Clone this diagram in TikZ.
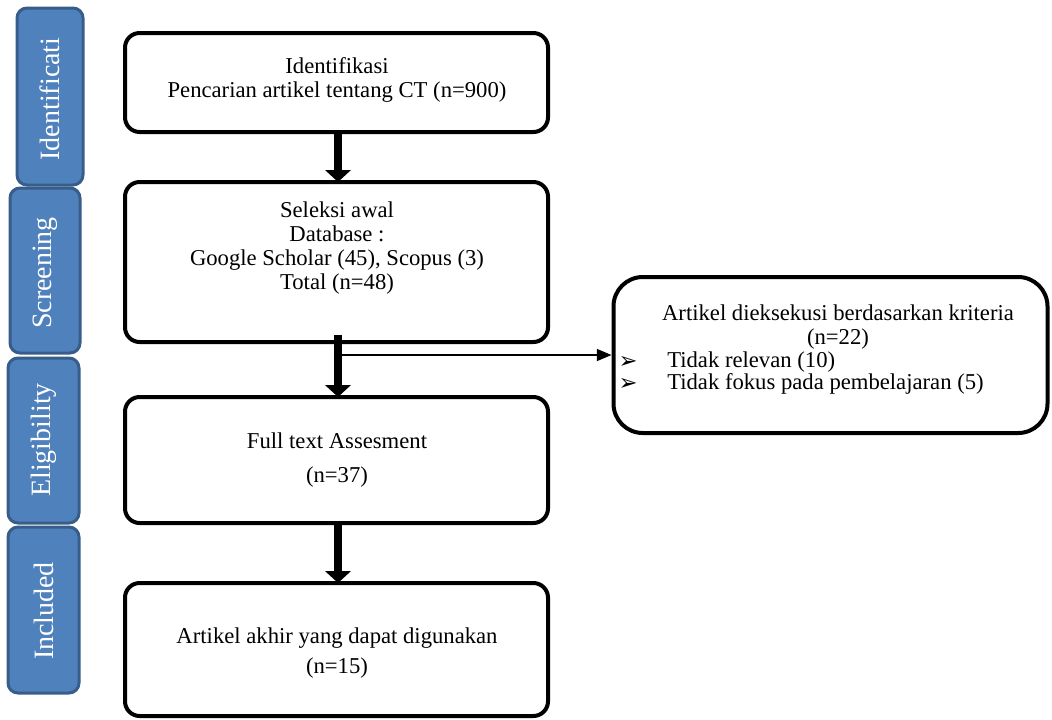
\documentclass[tikz,border=0pt]{standalone}
\usepackage{fontspec}
\setmainfont{Liberation Serif}
\newfontfamily\symfont{DejaVu Sans}
\usetikzlibrary{arrows.meta}
\definecolor{phasefill}{HTML}{4F81BD}
\definecolor{phaseline}{HTML}{385D8A}

\begin{document}
\begin{tikzpicture}[x=0.75pt,y=-0.75pt,
  box/.style={draw=black,line width=3pt,rounded corners=11pt,minimum width=317.25pt,inner sep=0pt},
  phase/.style={draw=phaseline,fill=phasefill,line width=2.25pt,rounded corners=7.5pt,inner sep=0pt},
  phasetxt/.style={text=white,rotate=90,font=\fontsize{21}{24}\selectfont,inner sep=0pt},
  txt/.style={align=center,font=\fontsize{17}{18}\selectfont,inner sep=0pt},
  bullet/.style={inner sep=0pt,font=\symfont\fontsize{17}{18}\selectfont,text height=9pt,text depth=0pt},
  bigarrow/.style={line width=6pt,-{Triangle[width=19pt,length=9pt]}},
  thinarrow/.style={line width=1.1pt,-{Triangle[width=9pt,length=11pt]}}]
\useasboundingbox (0,0) rectangle (1052,719);
\node (ph1) [phase,minimum width=49.5pt,minimum height=132.75pt] at (50,96.5) {};
\node (ph2) [phase,minimum width=52.5pt,minimum height=123.75pt] at (45,270.5) {};
\node (ph3) [phase,minimum width=53.25pt,minimum height=123.75pt] at (43.5,440.5) {};
\node (ph4) [phase,minimum width=53.25pt,minimum height=124.5pt] at (43.5,610) {};
\node (ph1t) [phasetxt] at (50,99) {Identificati};
\node (ph2t) [phasetxt] at (45,273) {Screening};
\node (ph3t) [phasetxt] at (43.5,440) {Eligibility};
\node (ph4t) [phasetxt] at (43.5,611) {Included};
\node (iden) [box,minimum height=74.25pt] at (336.5,82.5) {};
\node (screen) [box,minimum height=120pt] at (336.5,262) {};
\node (elig) [box,minimum height=94.5pt] at (336.5,460) {};
\node (incl) [box,minimum height=99.75pt] at (336.5,649.5) {};
\node (excl) [box,rounded corners=22pt,minimum width=325.5pt,minimum height=117pt] at (830.5,355) {};
\node (identxt) [txt] at (337,80) {Identifikasi\\Pencarian artikel tentang CT (n=900)};
\node (screentxt) [txt] at (337,248) {Seleksi awal\\Database :\\Google Scholar (45), Scopus (3)\\Total (n=48)};
\node (eligtxt) [txt] at (337,460) {Full text Assesment\\[7.5pt](n=37)};
\node (incltxt) [txt] at (337,653) {Artikel akhir yang dapat digunakan\\[5pt](n=15)};
\node (excltxt) [txt] at (838,327) {Artikel dieksekusi berdasarkan kriteria\\(n=22)};
\node (bul1) [bullet] at (628,362) {➢};
\node (bul2) [bullet] at (628,384) {➢};
\node (excl1) [txt,anchor=west] at (667,362) {Tidak relevan (10)};
\node (excl2) [txt,anchor=west] at (667,384) {Tidak fokus pada pembelajaran (5)};
\coordinate (split) at (338,355);
\draw [bigarrow] (338,132) -- (338,182);
\draw [bigarrow] (338,335) -- (338,397);
\draw [bigarrow] (338,523) -- (338,583);
\draw [thinarrow] (split) -- (excl.west);
\end{tikzpicture}
\end{document}
